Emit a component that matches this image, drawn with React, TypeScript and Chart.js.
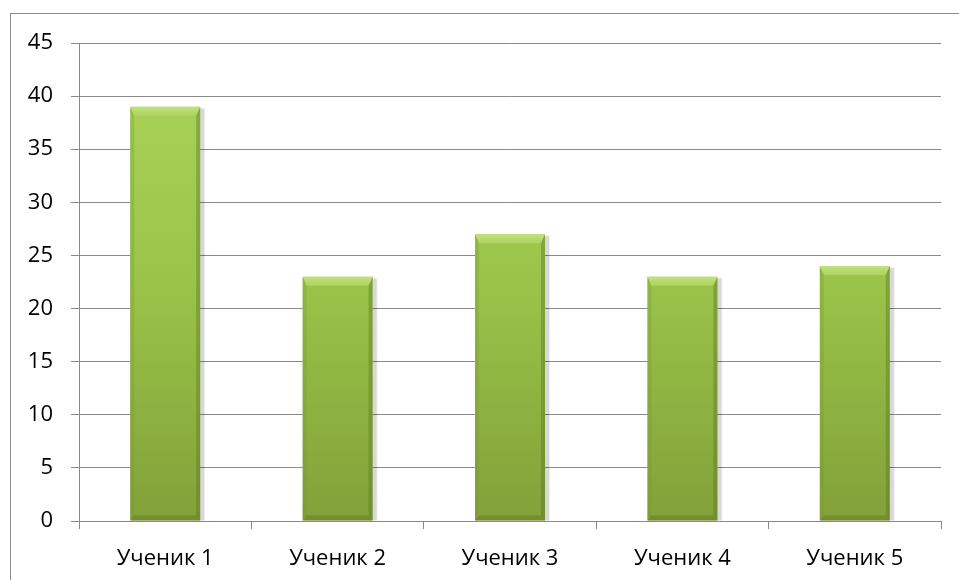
import React, { useEffect, useRef } from "react";
import { Chart, registerables } from "chart.js";

Chart.register(...registerables);

const categories = ["Ученик 1", "Ученик 2", "Ученик 3", "Ученик 4", "Ученик 5"];
const scores = [39, 23, 27, 23, 24];
const yMax = 45;
const yStep = 5;

const FONT = "'Open Sans', sans-serif";
const GRID = "#8a8a8a";

// Frame around the whole chart
const framePlugin = {
  id: "frame",
  beforeDraw(chart: any) {
    const ctx = chart.ctx;
    ctx.save();
    ctx.strokeStyle = "#8c8c8c";
    ctx.lineWidth = 1;
    ctx.strokeRect(10.5, 13.5, chart.width + 20, chart.height + 20);
    ctx.restore();
  },
};

// Bevelled edges and a soft shadow on every bar
const bevelPlugin = {
  id: "bevel",
  beforeDatasetsDraw(chart: any) {
    const ctx = chart.ctx;
    const meta = chart.getDatasetMeta(0);
    ctx.save();
    meta.data.forEach((bar: any) => {
      const { x, y, base, width } = bar.getProps(["x", "y", "base", "width"], true);
      const l = x - width / 2;
      ctx.fillStyle = "rgba(0,0,0,0.10)";
      ctx.fillRect(l + 2, y + 2, width + 2, base - y - 2);
      ctx.fillStyle = "rgba(0,0,0,0.06)";
      ctx.fillRect(l + 1, y + 1, width + 4, base - y - 1);
    });
    ctx.restore();
  },
  afterDatasetsDraw(chart: any) {
    const ctx = chart.ctx;
    const meta = chart.getDatasetMeta(0);
    ctx.save();
    meta.data.forEach((bar: any) => {
      const { x, y, base, width } = bar.getProps(["x", "y", "base", "width"], true);
      const l = x - width / 2;
      const r = x + width / 2;
      const t = y;
      const b = base;
      const bt = 9; // top bevel
      const bs = 4; // side bevel
      const bb = 5; // bottom bevel
      // top
      const gt = ctx.createLinearGradient(0, t, 0, t + bt);
      gt.addColorStop(0, "#c2e27f");
      gt.addColorStop(1, "#acd35e");
      ctx.fillStyle = gt;
      ctx.beginPath();
      ctx.moveTo(l, t);
      ctx.lineTo(r, t);
      ctx.lineTo(r - bs, t + bt);
      ctx.lineTo(l + bs, t + bt);
      ctx.closePath();
      ctx.fill();
      // left
      ctx.fillStyle = "rgba(120,150,50,0.30)";
      ctx.beginPath();
      ctx.moveTo(l, t);
      ctx.lineTo(l + bs, t + bt);
      ctx.lineTo(l + bs, b - bb);
      ctx.lineTo(l, b);
      ctx.closePath();
      ctx.fill();
      // right
      ctx.fillStyle = "rgba(90,115,30,0.40)";
      ctx.beginPath();
      ctx.moveTo(r, t);
      ctx.lineTo(r - bs, t + bt);
      ctx.lineTo(r - bs, b - bb);
      ctx.lineTo(r, b);
      ctx.closePath();
      ctx.fill();
      // bottom
      ctx.fillStyle = "rgba(80,100,25,0.30)";
      ctx.beginPath();
      ctx.moveTo(l, b);
      ctx.lineTo(l + bs, b - bb);
      ctx.lineTo(r - bs, b - bb);
      ctx.lineTo(r, b);
      ctx.closePath();
      ctx.fill();
    });
    ctx.restore();
  },
};

export default function App() {
  const ref = useRef<HTMLCanvasElement | null>(null);

  useEffect(() => {
    if (!ref.current) return;
    const chart = new Chart(ref.current, {
      type: "bar",
      data: {
        labels: categories,
        datasets: [
          {
            data: scores,
            backgroundColor: (c: any) => {
              const area = c.chart.chartArea;
              if (!area) return "#98c24a";
              const g = c.chart.ctx.createLinearGradient(0, area.top, 0, area.bottom);
              g.addColorStop(0, "#abd45b");
              g.addColorStop(0.5, "#9ac449");
              g.addColorStop(1, "#82a139");
              return g;
            },
            borderWidth: 0,
            categoryPercentage: 1,
            barPercentage: 0.406,
          },
        ],
      },
      options: {
        animation: false,
        responsive: false,
        maintainAspectRatio: false,
        layout: { padding: { left: 0, right: 18, top: 43, bottom: 0 } },
        plugins: {
          legend: { display: false },
          tooltip: { enabled: false },
        },
        scales: {
          x: {
            grid: {
              display: true,
              drawOnChartArea: false,
              drawTicks: true,
              tickLength: 8,
              color: GRID,
              offset: true,
            },
            border: { display: true, color: GRID, width: 1 },
            ticks: {
              color: "#000",
              font: { family: FONT, size: 22 },
              padding: 17,
            },
            afterFit: (s: any) => {
              s.height = 59;
            },
          },
          y: {
            min: 0,
            max: yMax,
            grid: {
              color: GRID,
              drawTicks: true,
              tickLength: 8,
            },
            border: { display: true, color: GRID, width: 1 },
            ticks: {
              stepSize: yStep,
              color: "#000",
              font: { family: FONT, size: 22 },
              padding: 18,
            },
            afterFit: (s: any) => {
              s.width = 79;
            },
          },
        },
      },
      plugins: [framePlugin, bevelPlugin],
    });
    return () => chart.destroy();
  }, []);

  return (
    <div style={{ position: "absolute", left: 0, top: 0, width: 959, height: 580, background: "#fff" }}>
      <canvas ref={ref} width={959} height={580} style={{ display: "block" }} />
    </div>
  );
}
